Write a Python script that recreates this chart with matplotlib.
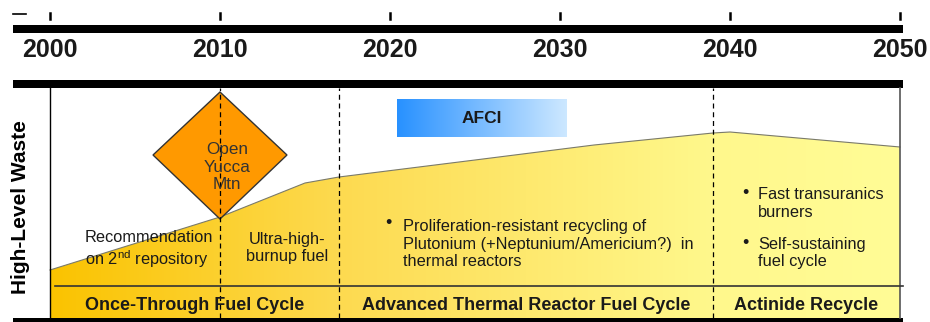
import numpy as np
import matplotlib
matplotlib.use('Agg')
import matplotlib.pyplot as plt
from matplotlib.patches import Polygon, Rectangle

plt.rcParams['font.family'] = ['Liberation Sans', 'DejaVu Sans']
plt.rcParams['mathtext.fontset'] = 'custom'
plt.rcParams['mathtext.rm'] = 'Liberation Sans'

# 时间轴
tick_years = [2000, 2010, 2020, 2030, 2040, 2050]
phase_bounds = [2010, 2017, 2039]  # 阶段分界(虚线)

# 高放废物量曲线
curve_years = [2000, 2010, 2015, 2017, 2025, 2032, 2039, 2040, 2050]
waste_level = [48, 101, 135, 141, 158, 173, 185, 186, 171]

# 燃料循环阶段
cycle_names = ['Once-Through Fuel Cycle', 'Advanced Thermal Reactor Fuel Cycle', 'Actinide Recycle']
cycle_spans = [(2000, 2017), (2017, 2039), (2039, 2050)]

# 填充渐变色
grad_years = [2000, 2017, 2039, 2050]
grad_r = [250, 253, 255, 255]
grad_g = [195, 218, 248, 252]
grad_b = [0, 80, 140, 150]

txt = '#1a1a1a'

fig = plt.figure(figsize=(9.3, 3.22), dpi=100)
ax = fig.add_axes([0, 0, 1, 1])
ax.set_xlim(2000 - 50 / 17, 2000 + 880 / 17)
ax.set_ylim(-4, 318)
ax.axis('off')

# 顶部年份刻度和粗横条
ax.add_patch(Rectangle((1997.8, 285), 52.4, 8, color='black', lw=0))
ax.add_patch(Rectangle((1997.8, 230), 52.4, 8, color='black', lw=0))
ax.add_patch(Rectangle((1997.8, -4), 52.4, 4, color='black', lw=0))
ax.plot([1997.8, 1998.6], [304, 304], color='black', lw=1.2)
for y in tick_years:
    ax.plot([y, y], [299, 305], color='black', lw=1.8)
    ax.text(y, 268, str(y), ha='center', va='center', fontsize=18,
            fontweight='bold', color=txt)

# 废物曲线下的渐变填充
xs = np.linspace(2000, 2050, 500)
cols = np.stack([np.interp(xs, grad_years, grad_r),
                 np.interp(xs, grad_years, grad_g),
                 np.interp(xs, grad_years, grad_b)], axis=-1) / 255
img = ax.imshow(cols[np.newaxis, :, :], extent=[2000, 2050, 0, 230],
                aspect='auto', zorder=1)
poly = Polygon(list(zip(curve_years, waste_level)) + [(2050, 0), (2000, 0)],
               closed=True, facecolor='none', edgecolor='none')
ax.add_patch(poly)
img.set_clip_path(poly)
ax.plot(curve_years, waste_level, color='#7a7a6a', lw=0.8, zorder=2)

# AFCI
afci = np.stack([np.linspace(40, 205, 200), np.linspace(145, 232, 200),
                 np.full(200, 255)], axis=-1) / 255
ax.imshow(afci[np.newaxis, :, :], extent=[2020.4, 2030.4, 181, 219],
          aspect='auto', zorder=2)
ax.text(2025.4, 200, 'AFCI', ha='center', va='center', fontsize=12.5,
        fontweight='bold', color=txt, zorder=5)

# 边框
ax.plot([2000, 2000], [0, 230], color='black', lw=1.0, zorder=3)
ax.plot([2050, 2050], [0, 230], color='#555555', lw=1.2, zorder=3)
ax.plot([2000.3, 2050.2], [32, 32], color='#333333', lw=1.2, zorder=3)

# Yucca 菱形
diamond = Polygon([(2010, 226), (2013.94, 163), (2010, 99), (2006.06, 163)],
                  closed=True, facecolor='#FF9900', edgecolor='#333333',
                  lw=1.0, zorder=3)
ax.add_patch(diamond)
ax.text(2010.4, 151, 'Open\nYucca\nMtn', ha='center', va='center',
        fontsize=12.3, color='#333333', linespacing=1.2, zorder=5)

# 阶段分界虚线
for b in phase_bounds:
    ax.plot([b, b], [0, 230], color='black', lw=0.9, ls=(0, (4, 3)), zorder=4)

# 各阶段说明
ax.text(2002.06, 68, 'Recommendation\non 2$^{\\mathrm{nd}}$ repository',
        ha='left', va='center', fontsize=11.8, color=txt, zorder=5)
ax.text(2013.94, 70, 'Ultra-high-\nburnup fuel', ha='center', va='center',
        fontsize=11.8, color=txt, zorder=5)
ax.text(2019.75, 95, '•', ha='left', va='center', fontsize=13, color=txt, zorder=5)
ax.text(2020.76, 74, 'Proliferation-resistant recycling of\n'
        'Plutonium (+Neptunium/Americium?)  in\nthermal reactors',
        ha='left', va='center', fontsize=11.8, color=txt, zorder=5)
ax.text(2040.7, 125, '•', ha='left', va='center', fontsize=13, color=txt, zorder=5)
ax.text(2041.65, 114.5, 'Fast transuranics\nburners', ha='left', va='center',
        fontsize=11.8, color=txt, zorder=5)
ax.text(2040.7, 75, '•', ha='left', va='center', fontsize=13, color=txt, zorder=5)
ax.text(2041.65, 65, 'Self-sustaining\nfuel cycle', ha='left', va='center',
        fontsize=11.8, color=txt, zorder=5)

for name, (a, b) in zip(cycle_names, cycle_spans):
    ax.text((a + b) / 2, 13, name, ha='center', va='center', fontsize=13,
            fontweight='bold', color=txt, zorder=5)

ax.text(1998.24, 111, 'High-Level Waste', rotation=90, ha='center',
        va='center', fontsize=15, fontweight='bold', color='black')

fig.savefig('out.png', dpi=100, facecolor='white')
